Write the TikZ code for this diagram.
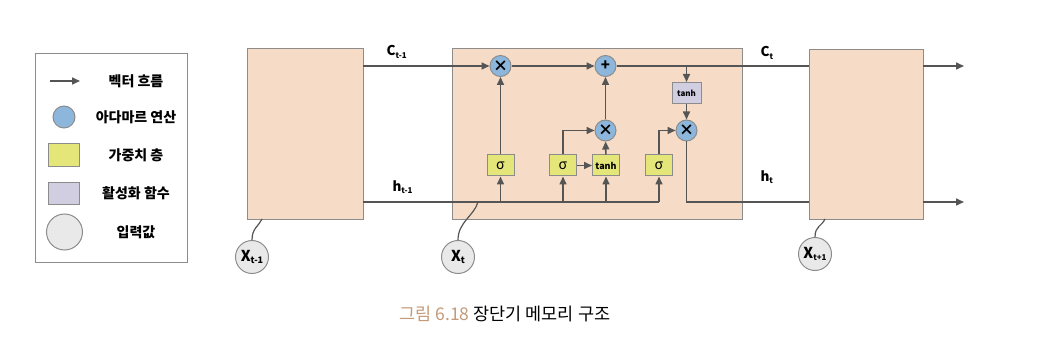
\documentclass[tikz,border=0pt]{standalone}
\usepackage{fontspec}
\setmainfont{Noto Sans CJK KR}
\usetikzlibrary{arrows.meta}
\definecolor{peach}{HTML}{F6DCC6}
\definecolor{bordergray}{HTML}{8C8C8C}
\definecolor{linegray}{HTML}{555555}
\definecolor{hblue}{HTML}{8DB6DC}
\definecolor{wyellow}{HTML}{E5E67A}
\definecolor{apurple}{HTML}{D2CEE2}
\definecolor{ingray}{HTML}{E9E9E9}
\definecolor{captan}{HTML}{C49A78}
\newcommand{\lab}[3][8]{#2\raisebox{-0.3ex}{\fontsize{#1}{#1}\selectfont #3}}
\begin{document}
\begin{tikzpicture}[x=1pt,y=-1pt,
 cell/.style={draw=bordergray, fill=peach, line width=1.2pt, inner sep=0pt, anchor=north west},
 flow/.style={draw=linegray, line width=1.6pt, -{Triangle[length=8pt,width=7pt]}},
 plain/.style={draw=linegray, line width=1.6pt},
 wire/.style={draw=linegray, line width=1.2pt},
 op/.style={circle, draw=bordergray, line width=1pt, fill=hblue, minimum size=21pt, inner sep=0pt, font=\fontsize{15}{15}\selectfont\bfseries},
 wbox/.style={draw=bordergray, line width=1pt, fill=wyellow, minimum width=27pt, minimum height=21pt, inner sep=0pt},
 abox/.style={draw=bordergray, line width=1pt, fill=apurple, minimum width=29pt, minimum height=21pt, inner sep=0pt, font=\fontsize{8}{8}\selectfont\bfseries},
 inp/.style={circle, draw=bordergray, line width=1pt, fill=ingray, minimum size=33pt, inner sep=0pt, font=\fontsize{15}{15}\selectfont\bfseries},
 lbl/.style={font=\fontsize{13.5}{14}\selectfont\bfseries},
 leg/.style={font=\fontsize{14}{14}\selectfont\bfseries},
]
\useasboundingbox (0,0) rectangle (1042,342);
% legend
\node[draw=bordergray, line width=1pt, minimum width=152pt, minimum height=209pt, inner sep=0pt, anchor=north west] (legend) at (35,53) {};
\coordinate (la1) at (50,81);
\coordinate (la2) at (80,81);
\draw[flow] (la1) -- (la2);
\node[leg] (t1) at (136,81) {벡터 흐름};
\node[op, minimum size=22pt] (lc) at (64,117) {};
\node[leg] (t2) at (136,117) {아다마르 연산};
\node[wbox, minimum width=31pt, minimum height=23pt] (ly) at (64,155) {};
\node[leg] (t3) at (136,155) {가중치 층};
\node[abox, minimum width=31pt, minimum height=21pt] (lp) at (64,193.5) {};
\node[leg] (t4) at (136,193) {활성화 함수};
\node[inp, minimum size=36pt] (lg) at (64.5,232) {};
\node[leg] (t5) at (136,232) {입력값};
% cells
\node[cell, minimum width=116pt, minimum height=171pt] (L) at (247,48) {};
\node[cell, minimum width=290pt, minimum height=171pt] (M) at (452,48) {};
\node[cell, minimum width=114pt, minimum height=170pt] (R) at (809,49) {};
% operators
\node[op] (m1) at (500.5,66) {×};
\node[op] (add) at (605.5,66) {+};
\node[op] (m2) at (605.5,130.5) {×};
\node[op] (m3) at (686.5,130.5) {×};
\node[abox] (ta) at (686.5,93) {tanh};
\node[wbox, font=\fontsize{14}{14}\selectfont] (s1) at (500.5,165.5) {σ};
\node[wbox, font=\fontsize{14}{14}\selectfont] (s2) at (563,165.5) {σ};
\node[wbox, font=\fontsize{9}{9}\selectfont\bfseries] (tw) at (606,165.5) {tanh};
\node[wbox, font=\fontsize{14}{14}\selectfont] (s3) at (659,165.5) {σ};
% coordinates
\coordinate (cA) at (363,66);
\coordinate (cB) at (809,66);
\coordinate (cC) at (923,66);
\coordinate (cD) at (964,66);
\coordinate (cT) at (686.5,66);
\coordinate (hA) at (363,202);
\coordinate (hJ) at (659,202);
\coordinate (hB) at (809,202);
\coordinate (hC) at (923,202);
\coordinate (hD) at (964,202);
\coordinate (h1) at (500.5,202);
\coordinate (h2) at (563,202);
\coordinate (h3) at (606,202);
\coordinate (xL) at (262,219);
\coordinate (xM) at (478,202);
\coordinate (xR) at (825,219);
% cell state
\draw[flow] (cA) -- (m1);
\draw[flow] (m1) -- (add);
\draw[plain] (add) -- (cB);
\draw[flow] (cC) -- (cD);
\draw[flow] (cT) -- (ta);
\draw[flow] (ta) -- (m3);
% hidden
\draw[plain] (hA) -- (hJ);
\draw[flow] (h1) -- (s1);
\draw[flow] (h2) -- (s2);
\draw[flow] (h3) -- (tw);
\draw[flow] (hJ) -- (s3);
\draw[flow] (s1) -- (m1);
\draw[flow] (s2) -- (tw);
\draw[flow] (s2.north) |- (m2);
\draw[flow] (tw) -- (m2);
\draw[flow] (m2) -- (add);
\draw[flow] (s3.north) |- (m3);
\draw[plain] (m3) |- (hB);
\draw[flow] (hC) -- (hD);
% labels
\node[lbl, anchor=west] (lc1) at (383,52) {\lab{C}{t-1}};
\node[lbl, anchor=west] (lh1) at (389,187) {\lab{h}{t-1}};
\node[lbl, anchor=west] (lc2) at (757,53) {\lab{C}{t}};
\node[lbl, anchor=west] (lh2) at (757,177) {\lab{h}{t}};
% inputs
\node[inp] (x0) at (252,257) {\lab[9]{X}{t-1}};
\node[inp] (x1) at (458,257) {\lab[9]{X}{t}};
\node[inp] (x2) at (815,254) {\lab[8]{X}{t+1}};
\draw[wire] (x0.north) .. controls (252,228) and (259,226) .. (xL);
\draw[wire] (x1.north) .. controls (458,222) and (474,216) .. (xM);
\draw[wire] (x2.north) .. controls (815,226) and (822,226) .. (xR);
% caption
\node[anchor=west, font=\fontsize{17.5}{18}\selectfont] (cap) at (396,314) {\textcolor{captan}{그림 6.18} 장단기 메모리 구조};
\end{tikzpicture}
\end{document}
